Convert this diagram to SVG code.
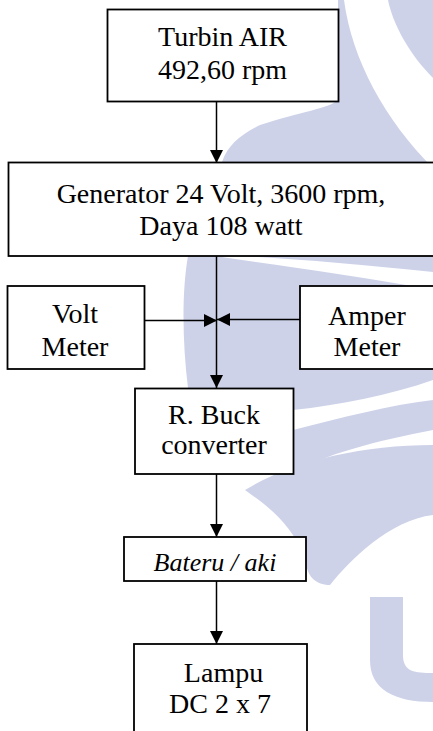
<svg xmlns="http://www.w3.org/2000/svg" width="433" height="731" viewBox="0 0 433 731">
<style>
.wm{fill:#cdd2e9;stroke:none}
.box{fill:#fff;stroke:#000;stroke-width:1.8}
.t{font-family:"Liberation Serif","Times New Roman",serif;font-size:28px;fill:#000;text-anchor:middle}
.ti{font-style:italic;font-size:26px}
.ln{stroke:#000;stroke-width:1.5;fill:none}
</style>
<defs>
<marker id="ah" viewBox="0 0 12 12" refX="12" refY="6" markerWidth="13" markerHeight="13" markerUnits="userSpaceOnUse" orient="auto">
<path d="M0,0 L12,6 L0,12 Z" fill="#000"/>
</marker>
</defs>
<rect width="433" height="731" fill="#fff"/>
<g id="watermark">
<path class="wm" d="M338 0 L344 0 C352 60 385 120 433 168 L433 256 L222 256 L222 162 C228 145 240 135 260 125 C300 112 330 108 338 100 Z"/>
<path class="wm" d="M388 0 L433 0 L433 78 C410 55 393 25 388 0 Z"/>
<path class="wm" d="M188 256 L215 256 C280 266 360 276 433 290 L433 372 L296 372 L296 388 L188 388 C182 340 182 290 188 256 Z"/>
<path class="wm" d="M235 256 L433 256 L433 272 C360 265 290 258 235 256 Z"/>
<path class="wm" d="M293 372 L433 372 L433 380 C390 395 340 405 293 410 Z"/>
<path class="wm" d="M293 430 C340 418 390 405 433 400 L433 430 C380 440 320 455 293 474 Z"/>
<path class="wm" d="M245 490 C290 462 360 445 433 445 L433 515 C390 520 350 560 330 585 C315 585 306 575 306 560 C290 520 265 505 245 490 Z"/>
<path class="wm" d="M370 597 L403 597 L403 655 C403 672 415 673 433 673 L433 702 C395 702 370 690 370 660 Z"/>
</g>
<g id="connectors">
<line class="ln" x1="216.5" y1="102" x2="216.5" y2="163" marker-end="url(#ah)"/>
<line class="ln" x1="216.5" y1="256" x2="216.5" y2="388" marker-end="url(#ah)"/>
<line class="ln" x1="140" y1="320.5" x2="217" y2="320.5" marker-end="url(#ah)"/>
<line class="ln" x1="300" y1="319.5" x2="217" y2="319.5" marker-end="url(#ah)"/>
<line class="ln" x1="216.5" y1="474" x2="216.5" y2="537" marker-end="url(#ah)"/>
<line class="ln" x1="216.5" y1="581" x2="216.5" y2="644" marker-end="url(#ah)"/>
</g>
<g id="turbin">
<rect class="box" x="107.5" y="9.5" width="231" height="92"/>
<text class="t" x="222.5" y="46">Turbin AIR</text>
<text class="t" x="222.5" y="79">492,60 rpm</text>
</g>
<g id="generator">
<rect class="box" x="8.5" y="162.5" width="430" height="93.5"/>
<text class="t" x="221" y="203">Generator 24 Volt, 3600 rpm,</text>
<text class="t" x="221" y="235">Daya 108 watt</text>
</g>
<g id="voltmeter">
<rect class="box" x="7.5" y="286" width="137" height="83"/>
<text class="t" x="75" y="323">Volt</text>
<text class="t" x="75" y="356">Meter</text>
</g>
<g id="ampermeter">
<rect class="box" x="300" y="286" width="140" height="83"/>
<text class="t" x="367" y="325">Amper</text>
<text class="t" x="367" y="356">Meter</text>
</g>
<g id="buck">
<rect class="box" x="135" y="388.5" width="158.5" height="85.5"/>
<text class="t" x="214" y="424">R. Buck</text>
<text class="t" x="214" y="454">converter</text>
</g>
<g id="bateru">
<rect class="box" x="124" y="537" width="182" height="44"/>
<text class="t ti" x="215" y="570.5">Bateru / aki</text>
</g>
<g id="lampu">
<rect class="box" x="134" y="644" width="173" height="100"/>
<text class="t" x="223.5" y="682">Lampu</text>
<text class="t" x="220" y="713">DC 2 x 7</text>
</g>
</svg>
